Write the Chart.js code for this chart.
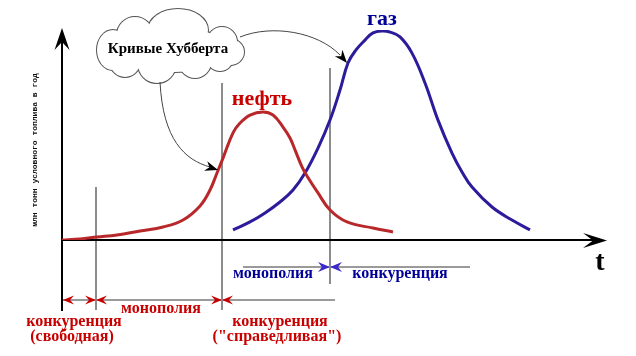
<!DOCTYPE html>
<html><head><meta charset="utf-8">
<script src="https://cdn.jsdelivr.net/npm/chart.js@4/dist/chart.umd.min.js"></script>
<style>html,body{margin:0;padding:0;background:#fff;}#wrap{width:636px;height:356px;}</style>
</head><body><div id="wrap"><canvas id="c" width="636" height="356"></canvas></div>
<script>
// time (arbitrary units) and production (arbitrary units)
const oilT = [0, 3.6, 7, 11, 15.6, 20.2, 24.2, 27.6, 29.6, 31, 32.2, 34.2, 35.6, 37.6, 40.2, 42.2, 44.2, 45.6, 46.6, 48, 49, 51.2, 53.6, 57, 62.2, 66.2];
const oilQ = [0, 0.5, 1.4, 2.4, 4.3, 6.2, 9.5, 16.2, 23.8, 31.9, 39.0, 51.0, 55.7, 59.5, 61.0, 59.5, 53.8, 48.6, 42.9, 34.8, 30.5, 22.4, 14.3, 8.6, 5.7, 3.8];
const gasT = [34.2, 37.6, 40.6, 43.6, 46.2, 48.6, 51.2, 53.6, 55.6, 57.2, 58.8, 60.6, 62.2, 64, 65.6, 67.6, 70, 72.6, 75.2, 78, 80, 82, 86, 90, 93.6];
const gasQ = [4.8, 8.6, 12.9, 18.1, 23.8, 31.9, 43.8, 57.1, 71.4, 84.3, 90.5, 95.2, 98.6, 99.5, 99.0, 96.7, 89.0, 74.8, 57.1, 41.4, 32.4, 25.2, 15.7, 9.5, 4.8];
// phase boundaries on the time axis
const phaseT = [6.8, 32, 53.6];
const seriesNames = ['нефть', 'газ'];
const yTitle = 'млн тонн условного топлива в год';
const xTitle = 't';
const cloudText = 'Кривые Хубберта';
const oilPhases = ['конкуренция', '(свободная)', 'монополия', 'конкуренция', '("справедливая")'];
const gasPhases = ['монополия', 'конкуренция'];

const RED = '#b8282a', BLUE = '#2c1c9c', TRED = '#c80000', TBLUE = '#000099';

function head(ctx, tx, ty, ang, len, half, notch, color) {
  ctx.save();
  ctx.translate(tx, ty); ctx.rotate(ang);
  ctx.fillStyle = color;
  ctx.beginPath();
  ctx.moveTo(0, 0);
  ctx.lineTo(-len, -half);
  ctx.lineTo(-len + notch, 0);
  ctx.lineTo(-len, half);
  ctx.closePath();
  ctx.fill();
  ctx.restore();
}

const deco = {
  id: 'deco',
  beforeDatasetsDraw(chart) {
    const { ctx, chartArea: a, scales: { x } } = chart;
    ctx.save();
    // phase boundary lines
    ctx.strokeStyle = '#8c8c8c'; ctx.lineWidth = 2;
    const tops = [187, 83, 68], bots = [310, 310, 284];
    phaseT.forEach((t, i) => {
      const px = Math.round(x.getPixelForValue(t));
      ctx.beginPath(); ctx.moveTo(px, tops[i]); ctx.lineTo(px, bots[i]); ctx.stroke();
    });
    const p0 = Math.round(x.getPixelForValue(phaseT[0]));
    const p1 = Math.round(x.getPixelForValue(phaseT[1]));
    const p2 = Math.round(x.getPixelForValue(phaseT[2]));
    ctx.strokeStyle = '#9a9a9a';
    ctx.beginPath(); ctx.moveTo(a.left, 300); ctx.lineTo(p2 + 5, 300); ctx.stroke();
    ctx.beginPath(); ctx.moveTo(p1 + 21, 267); ctx.lineTo(470, 267); ctx.stroke();
    // phase arrow markers
    head(ctx, a.left + 1, 300, Math.PI, 11, 4.5, 4, TRED);
    [p0, p1].forEach(p => {
      head(ctx, p, 300, 0, 11, 4.5, 4, TRED);
      head(ctx, p, 300, Math.PI, 11, 4.5, 4, TRED);
    });
    head(ctx, p2, 267, 0, 12, 5, 4, '#3a2ac8');
    head(ctx, p2, 267, Math.PI, 12, 5, 4, '#3a2ac8');
    // axes
    ctx.strokeStyle = '#000'; ctx.lineWidth = 2;
    ctx.beginPath(); ctx.moveTo(a.left, 311); ctx.lineTo(a.left, a.top + 10); ctx.stroke();
    head(ctx, a.left, a.top - 2, -Math.PI / 2, 22, 7.5, 8, '#000');
    ctx.beginPath(); ctx.moveTo(a.left, a.bottom); ctx.lineTo(a.right - 12, a.bottom); ctx.stroke();
    head(ctx, a.right, a.bottom + 0.5, 0, 24, 7.5, 10, '#000');
    ctx.restore();
  },
  afterDatasetsDraw(chart) {
    const { ctx } = chart;
    ctx.save();
    // cloud
    const lobes = [[113, 50, 16, 20], [135, 35, 18, 18], [178, 30, 30, 21], [222, 42, 15, 15], [230, 52, 14, 13],
                   [125, 62, 15, 15], [157, 64, 19, 19], [195, 62, 16, 16], [220, 58, 13, 13], [175, 50, 55, 22]];
    ctx.strokeStyle = '#555'; ctx.lineWidth = 2;
    lobes.forEach(l => { ctx.beginPath(); ctx.ellipse(l[0], l[1], l[2], l[3], 0, 0, Math.PI * 2); ctx.stroke(); });
    ctx.fillStyle = '#fff';
    lobes.forEach(l => { ctx.beginPath(); ctx.ellipse(l[0], l[1], l[2], l[3], 0, 0, Math.PI * 2); ctx.fill(); });
    // pointer arrows
    ctx.strokeStyle = '#444'; ctx.lineWidth = 1;
    ctx.beginPath(); ctx.moveTo(160, 82); ctx.bezierCurveTo(163, 140, 185, 160, 210, 167); ctx.stroke();
    head(ctx, 218, 170, Math.atan2(10, 30), 13, 5, 4, '#000');
    ctx.beginPath(); ctx.moveTo(240, 37); ctx.bezierCurveTo(272, 24, 318, 32, 340, 55); ctx.stroke();
    head(ctx, 347, 63, Math.atan2(26, 22), 13, 5, 4, '#000');
    // texts
    ctx.textAlign = 'center'; ctx.textBaseline = 'alphabetic';
    ctx.fillStyle = '#000';
    ctx.font = 'bold 15px "Liberation Serif"';
    ctx.fillText(cloudText, 168, 53);
    ctx.font = 'bold 22px "Liberation Serif"';
    ctx.fillStyle = TRED; ctx.fillText(seriesNames[0], 262, 105);
    ctx.fillStyle = TBLUE; ctx.fillText(seriesNames[1], 382, 25);
    ctx.fillStyle = '#000'; ctx.font = 'bold 28px "Liberation Serif"';
    ctx.fillText(xTitle, 600, 270);
    ctx.font = 'bold 16px "Liberation Serif"';
    ctx.fillStyle = TRED;
    ctx.fillText(oilPhases[0], 74, 326);
    ctx.fillText(oilPhases[1], 72, 341);
    ctx.fillText(oilPhases[2], 161, 313);
    ctx.fillText(oilPhases[3], 280, 326);
    ctx.fillText(oilPhases[4], 277, 341);
    ctx.fillStyle = TBLUE;
    ctx.fillText(gasPhases[0], 273, 278);
    ctx.fillText(gasPhases[1], 400, 278);
    // y title
    ctx.save();
    ctx.translate(37, 150); ctx.rotate(-Math.PI / 2);
    ctx.font = 'bold 8px "Liberation Mono"'; ctx.fillStyle = '#111';
    ctx.fillText(yTitle, 0, 0);
    ctx.restore();
    ctx.restore();
  }
};

new Chart(document.getElementById('c'), {
  type: 'line',
  data: {
    datasets: [
      { label: seriesNames[0], data: oilT.map((t, i) => ({ x: t, y: oilQ[i] })), borderColor: RED, borderWidth: 3, tension: 0.4, pointRadius: 0, fill: false },
      { label: seriesNames[1], data: gasT.map((t, i) => ({ x: t, y: gasQ[i] })), borderColor: BLUE, borderWidth: 3, tension: 0.4, pointRadius: 0, fill: false }
    ]
  },
  options: {
    responsive: false, animation: false,
    layout: { padding: { left: 62, right: 29, top: 30, bottom: 116 } },
    scales: {
      x: { type: 'linear', min: 0, max: 109, display: false },
      y: { min: 0, max: 100, display: false }
    },
    plugins: { legend: { display: false }, tooltip: { enabled: false } }
  },
  plugins: [deco]
});
</script></body></html>
